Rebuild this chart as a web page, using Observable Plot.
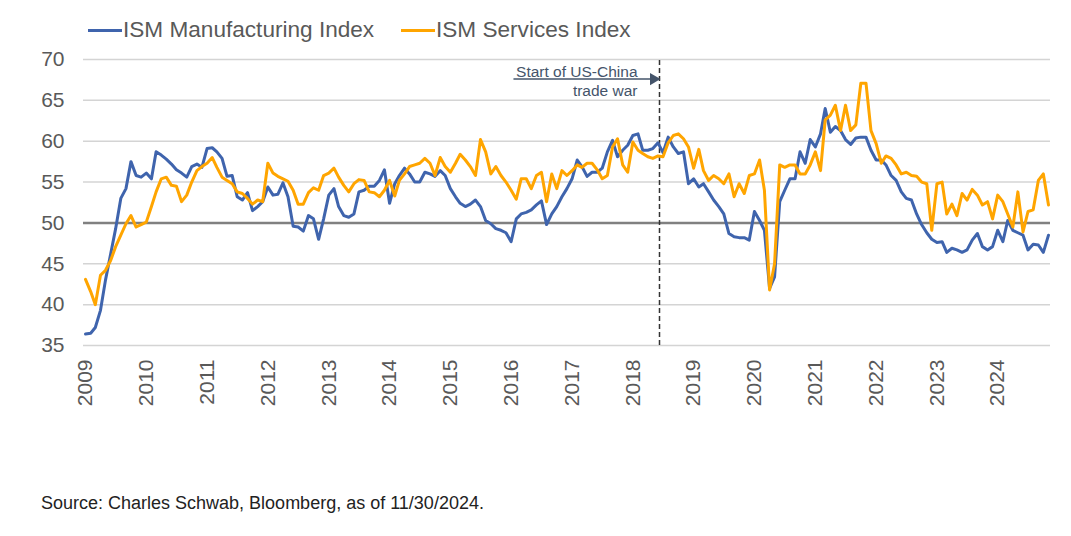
<!DOCTYPE html>
<html>
<head>
<meta charset="utf-8">
<script src="https://cdn.jsdelivr.net/npm/d3@7"></script>
<script src="https://cdn.jsdelivr.net/npm/@observablehq/plot@0.6"></script>
<style>
  html, body { margin: 0; padding: 0; background: #fff; }
  body { width: 1071px; height: 536px; overflow: hidden; font-family: "Liberation Sans", Arial, sans-serif; }
  #legend { height: 45px; position: relative; }
  .item { position: absolute; top: 17px; display: flex; align-items: center; font-size: 22.6px; color: #595959; white-space: nowrap; }
  .sw { display: inline-block; width: 34px; height: 3px; margin-right: 1px; }
  #caption { margin-top: 28px; margin-left: 41px; font-size: 18px; line-height: 20px; color: #222; }
</style>
</head>
<body>
<div id="legend"></div>
<div id="chart"></div>
<div id="caption">Source: Charles Schwab, Bloomberg, as of 11/30/2024.</div>
<script>
// ---- data (monthly, Jan 2009 .. Nov 2024) ----
const startYear = 2009;
const seriesNames = ["ISM Manufacturing Index", "ISM Services Index"];
const seriesColors = ["#3f64ad", "#ffa500"];

const manufacturing = [
  36.4, 36.5, 37.2, 39.3, 43.0, 46.2, 49.3, 53.0, 54.2, 57.5, 55.8, 55.6, // 2009
  56.1, 55.4, 58.7, 58.3, 57.8, 57.2, 56.5, 56.1, 55.6, 56.9, 57.2, 56.8, // 2010
  59.1, 59.2, 58.7, 57.9, 55.7, 55.8, 53.2, 52.8, 53.7, 51.5, 52.0, 52.6, // 2011
  54.4, 53.4, 53.5, 54.9, 53.2, 49.6, 49.5, 49.0, 50.9, 50.5, 48.0, 50.5, // 2012
  53.4, 54.2, 52.0, 50.9, 50.7, 51.1, 53.8, 54.0, 54.5, 54.5, 55.2, 56.5, // 2013
  52.4, 54.8, 55.8, 56.7, 56.0, 55.0, 55.0, 56.2, 56.0, 55.7, 56.4, 55.8, // 2014
  54.2, 53.2, 52.4, 52.0, 52.3, 52.8, 52.0, 50.3, 49.9, 49.3, 49.1, 48.8, // 2015
  47.7, 50.5, 51.1, 51.3, 51.6, 52.2, 52.7, 49.8, 51.1, 52.0, 53.2, 54.2, // 2016
  55.4, 57.7, 56.9, 55.7, 56.2, 56.2, 56.7, 58.7, 60.1, 58.1, 58.9, 59.5, // 2017
  60.7, 60.9, 58.9, 58.9, 59.1, 59.8, 58.6, 60.5, 59.3, 58.5, 58.7, 54.8, // 2018
  55.4, 54.4, 54.8, 53.8, 52.8, 52.0, 51.1, 48.7, 48.3, 48.2, 48.2, 47.9, // 2019
  51.4, 50.3, 49.1, 42.0, 43.4, 52.6, 54.0, 55.4, 55.4, 58.7, 57.3, 60.2, // 2020
  59.3, 60.9, 64.0, 61.1, 61.8, 61.3, 60.2, 59.6, 60.4, 60.5, 60.5, 58.9, // 2021
  57.7, 57.7, 57.1, 55.8, 55.2, 53.8, 53.0, 52.8, 51.1, 49.8, 48.8, 48.0, // 2022
  47.6, 47.7, 46.4, 46.9, 46.7, 46.4, 46.7, 47.9, 48.7, 47.1, 46.7, 47.1, // 2023
  49.1, 47.7, 50.3, 49.1, 48.8, 48.5, 46.7, 47.4, 47.3, 46.4, 48.5        // 2024
];

const services = [
  43.1, 41.6, 40.0, 43.6, 44.2, 45.4, 47.1, 48.5, 49.9, 50.9, 49.5, 49.8, // 2009
  50.1, 52.0, 53.8, 55.4, 55.6, 54.6, 54.5, 52.6, 53.4, 55.0, 56.4, 56.9, // 2010
  57.3, 58.0, 56.8, 55.6, 55.2, 54.8, 53.8, 53.6, 53.0, 52.3, 52.8, 52.6, // 2011
  57.3, 56.1, 55.7, 55.4, 55.1, 54.0, 52.3, 52.3, 53.7, 54.3, 54.0, 55.8, // 2012
  56.1, 56.7, 55.6, 54.6, 53.8, 54.8, 55.3, 55.2, 53.8, 53.7, 53.2, 54.0, // 2013
  55.2, 53.3, 55.2, 56.0, 56.9, 57.1, 57.3, 57.9, 57.3, 55.8, 58.0, 56.9, // 2014
  56.2, 57.3, 58.4, 57.7, 56.9, 55.8, 60.2, 58.7, 56.0, 56.9, 55.8, 55.0, // 2015
  54.0, 52.9, 55.4, 55.4, 54.2, 55.8, 56.2, 52.6, 56.0, 54.2, 56.4, 55.8, // 2016
  56.4, 57.1, 56.8, 57.3, 57.3, 56.5, 55.4, 55.8, 59.3, 60.3, 57.1, 56.2, // 2017
  59.9, 58.9, 58.5, 58.1, 57.9, 58.2, 58.1, 59.8, 60.7, 60.9, 60.3, 59.3, // 2018
  56.7, 59.0, 56.4, 55.2, 55.8, 55.4, 54.8, 56.0, 53.2, 54.8, 53.6, 55.8, // 2019
  56.0, 57.7, 54.0, 41.8, 45.0, 57.1, 56.8, 57.1, 57.1, 56.0, 56.0, 57.1, // 2020
  58.7, 56.4, 62.6, 63.2, 64.4, 61.3, 64.4, 61.3, 62.0, 67.1, 67.1, 61.3, // 2021
  59.7, 57.3, 58.2, 57.9, 57.1, 56.0, 56.2, 55.8, 55.7, 55.0, 54.8, 49.1, // 2022
  54.8, 55.0, 51.1, 52.3, 50.9, 53.6, 52.8, 54.1, 53.4, 52.2, 52.6, 50.5, // 2023
  53.4, 52.6, 51.1, 49.5, 53.8, 48.9, 51.4, 51.6, 55.2, 56.0, 52.2        // 2024
];

const yTicks = [35, 40, 45, 50, 55, 60, 65, 70];
const yearTicks = d3.range(2009, 2025);
const tradeWarDate = new Date(Date.UTC(2018, 5, 10));
const annotationLines = ["Start of US-China", "trade war"];
const annotationTextDate = new Date(Date.UTC(2018, 0, 29));
const annotationTextY = [68.45, 66.1];
const arrowFrom = {date: new Date(Date.UTC(2016, 0, 15)), value: 67.6};
const arrowTo = {date: new Date(Date.UTC(2018, 4, 5)), value: 67.6};
const xDomain = [new Date(Date.UTC(2008, 11, 20)), new Date(Date.UTC(2024, 10, 13))];

// ---- build table ----
const monthDate = (i) => new Date(Date.UTC(startYear, i, 1));
const rows = [];
manufacturing.forEach((v, i) => rows.push({date: monthDate(i), value: v, series: seriesNames[0]}));
services.forEach((v, i) => rows.push({date: monthDate(i), value: v, series: seriesNames[1]}));

// ---- legend ----
const legend = document.getElementById("legend");
const legendLeft = [88, 401];
seriesNames.forEach((name, k) => {
  const d = document.createElement("div");
  d.className = "item";
  d.style.left = legendLeft[k] + "px";
  d.innerHTML = `<span class="sw" style="background:${seriesColors[k]}"></span><span>${name}</span>`;
  legend.appendChild(d);
});

// ---- chart ----
const chart = Plot.plot({
  width: 1071,
  height: 420,
  marginLeft: 83,
  marginRight: 21,
  marginTop: 14,
  marginBottom: 120,
  style: {fontFamily: '"Liberation Sans", Arial, sans-serif', fontSize: "21px", color: "#595959", background: "#fff", overflow: "visible"},
  x: {type: "utc", domain: xDomain},
  y: {domain: [35, 70]},
  color: {domain: seriesNames, range: seriesColors},
  marks: [
    Plot.ruleY(yTicks.filter(t => t !== 50), {stroke: "#d4d4d4", strokeWidth: 1.5}),
    Plot.ruleY([50], {stroke: "#808080", strokeWidth: 2.5}),
    Plot.axisY({ticks: yTicks, tickSize: 0, tickPadding: 19, label: null, fontSize: 21}),
    Plot.axisX({ticks: yearTicks.map(y => new Date(Date.UTC(y, 0, 1))), tickFormat: d3.utcFormat("%Y"), tickRotate: -90, tickSize: 0, tickPadding: 14, label: null, fontSize: 21}),
    Plot.ruleX([tradeWarDate], {y1: 35, y2: 70, stroke: "#333", strokeWidth: 1.5, strokeDasharray: "5,3"}),
    Plot.lineY(rows.filter(d => d.series === seriesNames[0]), {x: "date", y: "value", stroke: "series", strokeWidth: 3, strokeLinejoin: "round"}),
    Plot.lineY(rows.filter(d => d.series === seriesNames[1]), {x: "date", y: "value", stroke: "series", strokeWidth: 3, strokeLinejoin: "round"}),
    Plot.link([{x1: arrowFrom.date, x2: arrowTo.date, y1: arrowFrom.value, y2: arrowTo.value}], {x1: "x1", x2: "x2", y1: "y1", y2: "y2", stroke: "#44546a", strokeWidth: 1.5}),
    Plot.dot([arrowTo], {x: "date", y: "value", symbol: "triangle", rotate: 90, r: 4.5, fill: "#44546a", stroke: null}),
    Plot.text(annotationLines, {x: () => annotationTextDate, y: (d, i) => annotationTextY[i], text: d => d, textAnchor: "end", fontSize: 15.5, fill: "#44546a"})
  ]
});
document.getElementById("chart").appendChild(chart);
</script>
</body>
</html>
